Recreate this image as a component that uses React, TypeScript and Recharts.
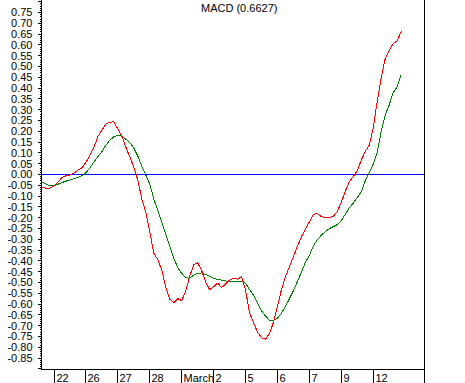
import React from 'react';
import { LineChart, Line, XAxis, YAxis, ReferenceLine } from 'recharts';

const TITLE = 'MACD (0.6627)';

// one value per bar
const MACD = [
  -0.061, -0.063, -0.063, -0.052, -0.036, -0.013, -0.006, -0.003, 0.006, 0.02,
  0.031, 0.057, 0.089, 0.126, 0.177, 0.205, 0.233, 0.242, 0.244, 0.21,
  0.177, 0.126, 0.081, 0.034, -0.026, -0.114, -0.175, -0.267, -0.364, -0.394,
  -0.443, -0.522, -0.577, -0.594, -0.575, -0.584, -0.54, -0.471, -0.418, -0.409,
  -0.445, -0.499, -0.533, -0.52, -0.503, -0.524, -0.506, -0.489, -0.48, -0.485,
  -0.473, -0.536, -0.642, -0.686, -0.73, -0.756, -0.762, -0.737, -0.684, -0.61,
  -0.533, -0.473, -0.427, -0.381, -0.332, -0.288, -0.253, -0.219, -0.185, -0.181,
  -0.195, -0.201, -0.201, -0.193, -0.172, -0.128, -0.077, -0.033, -0.01, 0.018,
  0.066, 0.106, 0.136, 0.214, 0.339, 0.448, 0.537, 0.575, 0.606, 0.619,
  0.663,
];

const SIGNAL = [
  -0.035, -0.045, -0.052, -0.052, -0.045, -0.037, -0.031, -0.025, -0.019, -0.013,
  -0.006, 0.008, 0.031, 0.059, 0.083, 0.106, 0.136, 0.159, 0.175, 0.182,
  0.177, 0.163, 0.148, 0.122, 0.085, 0.038, -0.003, -0.045, -0.114, -0.165,
  -0.221, -0.276, -0.334, -0.387, -0.431, -0.458, -0.478, -0.48, -0.466, -0.457,
  -0.456, -0.463, -0.472, -0.48, -0.486, -0.489, -0.493, -0.494, -0.494, -0.494,
  -0.494, -0.503, -0.533, -0.559, -0.596, -0.631, -0.656, -0.675, -0.675, -0.665,
  -0.642, -0.61, -0.575, -0.538, -0.496, -0.452, -0.406, -0.374, -0.33, -0.302,
  -0.281, -0.264, -0.251, -0.241, -0.232, -0.214, -0.184, -0.154, -0.132, -0.107,
  -0.08, -0.029, 0.01, 0.048, 0.103, 0.2, 0.275, 0.322, 0.378, 0.406,
  0.462,
];

const DAY_TICKS = [3, 11, 19, 27, 35, 43, 51, 59, 67, 75, 83, 95.85];
const DAY_LABELS = ['22', '26', '27', '28', 'March', '2', '5', '6', '7', '9', '12', ''];

// minor tick every 0.01, labels every 0.05
const Y_TICKS = Array.from({ length: 171 }, (_, k) => (k - 90) / 100);

const data = MACD.map((macd, i) => ({ i, macd, signal: SIGNAL[i] }));

const FONT = '"Liberation Sans", Arial, sans-serif';

const YTick = (props: any) => {
  const { x, y, payload, side } = props;
  const h = Math.round(payload.value * 100);
  const major = h % 5 === 0;
  const labeled = major && h >= -85 && h <= 75;
  const yy = Math.floor(y) + 0.5;
  const dir = side === 'left' ? -1 : 1;
  const len = major ? (side === 'left' ? 4 : 5) : side === 'left' ? 2 : 3;
  return (
    <g>
      <line x1={x} x2={x + dir * len} y1={yy} y2={yy} stroke="#000" shapeRendering="crispEdges" />
      {labeled && (
        <text
          x={side === 'left' ? x - 9 : x + 37}
          y={y}
          dy="0.35em"
          textAnchor="end"
          fontSize={11}
          fontFamily={FONT}
          fill="#000"
        >
          {(h / 100).toFixed(2)}
        </text>
      )}
    </g>
  );
};

const DayTick = (props: any) => {
  const { x, y, index } = props;
  const xx = Math.floor(x) + 0.5;
  return (
    <g>
      <line x1={xx} x2={xx} y1={y} y2={y + 14} stroke="#000" shapeRendering="crispEdges" />
      <text x={xx + 2} y={y + 12} fontSize={11} fontFamily={FONT} fill="#000">
        {DAY_LABELS[index]}
      </text>
    </g>
  );
};

export default function App() {
  return (
    <div style={{ position: 'absolute', left: 0, top: 0, width: 465, height: 383, background: '#fff' }}>
      <LineChart width={465} height={383} data={data} margin={{ top: 0, right: 0, bottom: 0, left: 0 }}>
        <XAxis
          dataKey="i"
          type="number"
          domain={[-0.15, 95.85]}
          ticks={DAY_TICKS}
          interval={0}
          height={13.5}
          tickSize={0}
          tickMargin={0}
          tickLine={false}
          axisLine={{ stroke: '#000', shapeRendering: 'crispEdges' }}
          tick={(p: any) => <DayTick {...p} />}
        />
        <YAxis
          yAxisId="l"
          orientation="left"
          type="number"
          domain={[-0.903, 0.808]}
          ticks={Y_TICKS}
          interval={0}
          width={41.5}
          tickSize={0}
          tickMargin={0}
          tickLine={false}
          axisLine={{ stroke: '#000', shapeRendering: 'crispEdges' }}
          tick={(p: any) => <YTick {...p} side="left" />}
        />
        <YAxis
          yAxisId="r"
          orientation="right"
          type="number"
          domain={[-0.903, 0.808]}
          ticks={Y_TICKS}
          interval={0}
          width={40.5}
          tickSize={0}
          tickMargin={0}
          tickLine={false}
          axisLine={{ stroke: '#000', shapeRendering: 'crispEdges' }}
          tick={(p: any) => <YTick {...p} side="right" />}
        />
        <ReferenceLine yAxisId="l" y={0} stroke="#0000ff" shapeRendering="crispEdges" />
        <Line
          yAxisId="l"
          type="linear"
          dataKey="signal"
          stroke="#008000"
          strokeWidth={1}
          shapeRendering="crispEdges"
          dot={false}
          isAnimationActive={false}
        />
        <Line
          yAxisId="l"
          type="linear"
          dataKey="macd"
          stroke="#ff0000"
          strokeWidth={1}
          shapeRendering="crispEdges"
          dot={false}
          isAnimationActive={false}
        />
      </LineChart>
      <div
        style={{
          position: 'absolute',
          left: 201,
          top: 2,
          fontFamily: FONT,
          fontSize: 11,
          lineHeight: '12px',
          color: '#000',
          whiteSpace: 'nowrap',
        }}
      >
        {TITLE}
      </div>
    </div>
  );
}
